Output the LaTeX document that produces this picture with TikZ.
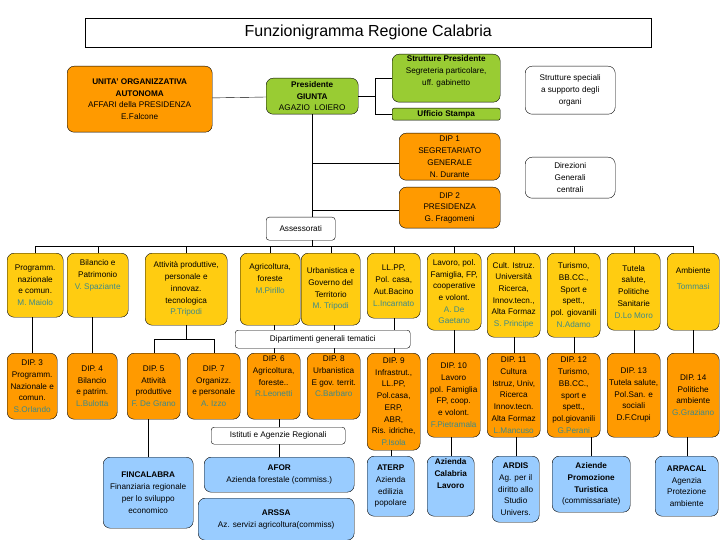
\documentclass[tikz,border=0pt]{standalone}
\usepackage{fontspec}
\setmainfont{Liberation Sans}
\usetikzlibrary{calc,positioning}
\definecolor{yel}{HTML}{FFCC11}
\definecolor{org}{HTML}{FF9A00}
\definecolor{grn}{HTML}{99CC33}
\definecolor{blu}{HTML}{99CCFF}
\definecolor{whoc}{HTML}{3D8A8A}
\newcommand{\who}[1]{{\color{whoc}#1}}
\newcommand{\fs}{\fontsize{8.2}{11.7}\selectfont}

\begin{document}
\begin{tikzpicture}[x=1pt,y=-1pt,
    fr/.style n args={4}{at={(#1,#2)},anchor=north west,
        minimum width={(#3)-(#1)},minimum height={(#4)-(#2)}},
    box/.style={draw,rounded corners=7pt,align=center,inner sep=0.5pt,font=\fs},
    lbl/.style={draw,fill=white,rounded corners=3pt,align=center,inner sep=1pt,font=\fs},
    ass/.style={box,fill=yel},
    dip/.style={box,fill=org},
    ag/.style={box,fill=blu},
    pre/.style={box,fill=grn}]

    \useasboundingbox (0,0) rectangle (720,540);

    % top
    \node[draw,fr={85}{18}{651}{47},font=\fontsize{16}{18}\selectfont] (title) {Funzionigramma Regione Calabria};
    \node[dip,fr={67}{66}{212}{132}] (uoa) {\textbf{UNITA' ORGANIZZATIVA}\\\textbf{AUTONOMA}\\AFFARI della PRESIDENZA\\E.Falcone};
    \node[pre,fr={266}{78}{358}{114}] (pres) {\textbf{Presidente}\\\textbf{GIUNTA}\\AGAZIO\ \ LOIERO};
    \node[pre,fr={392}{54}{500}{102}] (strpres) {\textbf{Strutture Presidente}\\Segreteria particolare,\\uff. gabinetto\\[4pt]};
    \node[pre,rounded corners=2pt,fr={392}{108}{500}{120}] (stampa) {\textbf{Ufficio Stampa}};
    \node[box,fr={525}{66}{615}{114}] (spec) {Strutture speciali\\a supporto degli\\organi};
    \node[dip,fr={399}{133}{500}{180}] (dip1) {DIP 1\\SEGRETARIATO\\GENERALE\\N. Durante};
    \node[dip,fr={399}{187}{500}{228}] (dip2) {DIP 2\\PRESIDENZA\\G. Fragomeni};
    \node[box,fr={525}{157}{615}{198}] (dirgen) {Direzioni\\Generali\\centrali};
    \node[lbl,fr={266}{217}{335}{240}] (assess) {Assessorati};

    \draw (uoa) -- (pres);
    \draw (pres.east) -- ++(17,0) coordinate (brk);
    \draw (brk |- strpres.west) -- (brk |- stampa.west);
    \draw (brk |- strpres.west) -- (strpres.west);
    \draw (brk |- stampa.west) -- (stampa.west);
    \draw (pres.south) -- (pres.south |- assess.north);
    \draw (dip1.west |- 0,163) -- (pres.south |- 0,163);
    \draw (dip2.west |- 0,210) -- (pres.south |- 0,210);

    % assessorati
    \node[ass,fr={7}{253}{63}{317}] (a1) {Programm.\\nazionale\\e comun.\\\who{M. Maiolo}};
    \node[ass,fr={67}{253}{128}{317}] (a2) {Bilancio e\\Patrimonio\\\who{V. Spaziante}\\[10pt]};
    \node[ass,fr={145}{253}{227}{325}] (a3) {Attività produttive,\\personale e\\innovaz.\\tecnologica\\\who{P.Tripodi}};
    \node[ass,fr={240}{253}{300}{325}] (a4) {Agricoltura,\\foreste\\\who{M.Pirillo}\\[10pt]};
    \node[ass,fr={301}{253}{360}{325}] (a5) {Urbanistica e\\Governo del\\Territorio\\\who{M. Tripodi}};
    \node[ass,fr={367}{253}{420}{318}] (a6) {LL.PP,\\Pol. casa,\\Aut.Bacino\\\who{L.Incarnato}};
    \node[ass,fr={427}{253}{481}{330}] (a7) {Lavoro, pol.\\Famiglia, FP,\\cooperative\\e volont.\\\who{A. De}\\\who{Gaetano}};
    \node[ass,fr={487}{253}{540}{337}] (a8) {Cult. Istruz.\\Università\\Ricerca,\\Innov.tecn.,\\Alta Formaz\\\who{S. Principe}};
    \node[ass,fr={547}{253}{600}{337}] (a9) {Turismo,\\BB.CC.,\\Sport e\\spett.,\\pol. giovanili\\\who{N.Adamo}};
    \node[ass,fr={607}{253}{660}{330}] (a10) {Tutela\\salute,\\Politiche\\Sanitarie\\\who{D.Lo Moro}};
    \node[ass,fr={667}{253}{719}{330}] (a11) {Ambiente\\[4pt]\who{Tommasi}\\[14pt]};

    \draw (pres.south |- assess.south) -- (pres.south |- 0,246);
    \draw (a1.north |- 0,246) -- (a11.north |- 0,246);
    \foreach \n in {a1,a2,a3,a4,a5,a6,a7,a8,a9,a10,a11}
        \draw (\n.north) -- (\n.north |- 0,246);

    % dipartimenti
    \node[dip,fr={7}{353}{57}{419}] (d3) {DIP. 3\\Programm.\\Nazionale e\\comun.\\\who{S.Orlando}};
    \node[dip,fr={67}{353}{117}{419}] (d4) {DIP. 4\\Bilancio\\e patrim.\\\who{L.Bulotta}};
    \node[dip,fr={127}{353}{180}{419}] (d5) {DIP. 5\\Attività\\produttive\\\who{F. De Grano}};
    \node[dip,fr={187}{353}{240}{419}] (d7) {DIP. 7\\Organizz.\\e personale\\\who{A. Izzo}};
    \node[dip,fr={247}{353}{300}{419}] (d6) {DIP. 6\\Agricoltura,\\foreste..\\\who{R.Leonetti}\\[8pt]};
    \node[dip,fr={307}{353}{360}{419}] (d8) {DIP. 8\\Urbanistica\\E gov. territ.\\\who{C.Barbaro}\\[8pt]};
    \node[dip,fr={367}{353}{420}{450}] (d9) {DIP. 9\\Infrastrut.,\\LL.PP,\\Pol.casa,\\ERP,\\ABR,\\Ris. idriche,\\\who{P.Isola}};
    \node[dip,fr={427}{353}{480}{437}] (d10) {DIP. 10\\Lavoro\\pol. Famiglia\\FP, coop.\\e volont.\\\who{F.Pietramala}};
    \node[dip,fr={487}{353}{540}{437}] (d11) {DIP. 11\\Cultura\\Istruz, Univ,\\Ricerca\\Innov.tecn.\\Alta Formaz\\\who{L.Mancuso}};
    \node[dip,fr={547}{353}{600}{437}] (d12) {DIP. 12\\Turismo,\\BB.CC.,\\sport e\\spett.,\\pol.giovanili\\\who{G.Perani}};
    \node[dip,fr={607}{353}{660}{437}] (d13) {DIP. 13\\Tutela salute,\\Pol.San. e\\sociali\\D.F.Crupi};
    \node[dip,fr={667}{353}{719}{437}] (d14) {DIP. 14\\Politiche\\ambiente\\\who{G.Graziano}};

    \foreach \a/\d in {a1/d3,a2/d4,a4/d6,a5/d8,a6/d9,a7/d10,a8/d11,a9/d12,a10/d13,a11/d14}
        \draw (\d.north) -- (\d.north |- \a.south);
    \draw (a3.south) -- ++(0,14) coordinate (fork);
    \draw (d5.north) |- (fork) -| (d7.north);

    \node[lbl,fr={235}{330}{410}{348}] (tem) {Dipartimenti generali tematici};

    % istituti e agenzie
    \node[ag,fr={103}{457}{193}{528}] (fincal) {\textbf{FINCALABRA}\\Finanziaria regionale\\per lo sviluppo\\economico};
    \node[ag,fr={204}{457}{354}{492}] (afor) {\textbf{AFOR}\\Azienda forestale (commiss.)};
    \node[ag,fr={198}{498}{354}{540}] (arssa) {\textbf{ARSSA}\\Az. servizi agricoltura(commiss)};
    \node[ag,fr={367}{456}{414}{516}] (aterp) {\textbf{ATERP}\\Azienda\\edilizia\\popolare};
    \node[ag,fr={427}{456}{474}{516}] (acl) {\textbf{Azienda}\\\textbf{Calabria}\\\textbf{Lavoro}\\[14pt]};
    \node[ag,fr={492}{456}{539}{522}] (ardis) {\textbf{ARDIS}\\Ag. per il\\diritto allo\\Studio\\Univers.};
    \node[ag,fr={552}{456}{630}{512}] (apt) {\textbf{Aziende}\\\textbf{Promozione}\\\textbf{Turistica}\\(commissariate)};
    \node[ag,fr={655}{456}{718}{516}] (arpacal) {\textbf{ARPACAL}\\Agenzia\\Protezione\\ambiente};

    \draw (fincal.north) -- (fincal.north |- d5.south);
    \draw (afor.north) -- (afor.north |- d6.south);
    \foreach \d/\g in {d9/aterp,d10/acl,d11/ardis,d12/apt,d14/arpacal}
        \draw (\g.north) -- (\g.north |- \d.south);

    \node[lbl,fr={211}{427}{345}{444}] (ist) {Istituti e Agenzie Regionali};

\end{tikzpicture}
\end{document}
